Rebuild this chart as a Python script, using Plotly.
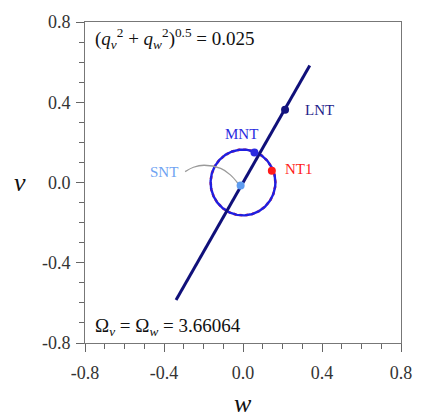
import numpy as np
import plotly.graph_objects as go

# Data
line_w = [-0.339, 0.338]
line_v = [-0.586, 0.583]
circle_r = 0.164
circle_theta = np.linspace(0, 2 * np.pi, 241)
pts_names = ["LNT", "MNT", "NT1", "SNT"]
pts_w = [0.213, 0.058, 0.146, -0.012]
pts_v = [0.362, 0.150, 0.058, -0.015]
pts_colors = ["#14147f", "#2a2ae0", "#ff1a1a", "#5e9cf0"]
lab_w = [0.385, -0.010, 0.285, -0.400]
lab_v = [0.360, 0.242, 0.067, 0.054]
lab_colors = ["#1e1e8a", "#2a2ae0", "#ff1a1a", "#6fa3f2"]
conn_w = [-0.293, -0.251, -0.197, -0.113, -0.064, -0.025]
conn_v = [0.054, 0.076, 0.086, 0.070, 0.038, -0.005]
tick_vals = [-0.8, -0.4, 0.0, 0.4, 0.8]
tick_text = ["-0.8", "-0.4", "0.0", "0.4", "0.8"]

SERIF = "Liberation Serif, Times New Roman, serif"

cw = circle_r * np.cos(circle_theta)
cv = circle_r * np.sin(circle_theta)

fig = go.Figure()
fig.add_trace(go.Scatter(x=cw, y=cv, mode="lines",
                         line=dict(color="#ff3030", width=2.6, dash="dot"),
                         hoverinfo="skip", showlegend=False))
fig.add_trace(go.Scatter(x=cw, y=cv, mode="lines",
                         line=dict(color="#1f1fe0", width=2.4),
                         hoverinfo="skip", showlegend=False))
fig.add_trace(go.Scatter(x=conn_w, y=conn_v, mode="lines",
                         line=dict(color="#9a9a9a", width=1.3, shape="spline"),
                         hoverinfo="skip", showlegend=False))
fig.add_trace(go.Scatter(x=line_w, y=line_v, mode="lines",
                         line=dict(color="#10107a", width=3),
                         showlegend=False))
fig.add_trace(go.Scatter(x=pts_w, y=pts_v, mode="markers",
                         marker=dict(color=pts_colors, size=8),
                         text=pts_names, showlegend=False))

for n, x, y, c in zip(pts_names, lab_w, lab_v, lab_colors):
    fig.add_annotation(x=x, y=y, text=n, showarrow=False,
                       font=dict(family=SERIF, size=15, color=c))

fig.add_annotation(xref="paper", yref="paper", x=0.025, y=0.95,
                   xanchor="left", yanchor="middle", showarrow=False,
                   text="(<i>q<sub>v</sub></i><sup>2</sup> + <i>q<sub>w</sub></i><sup>2</sup>)<sup>0.5</sup> = 0.025",
                   font=dict(family=SERIF, size=19, color="#111"))
fig.add_annotation(xref="paper", yref="paper", x=0.025, y=0.05,
                   xanchor="left", yanchor="middle", showarrow=False,
                   text="Ω<sub><i>v</i></sub> = Ω<sub><i>w</i></sub> = 3.66064",
                   font=dict(family=SERIF, size=19, color="#111"))
# axis titles
fig.add_annotation(xref="paper", yref="paper", x=-0.205, y=0.5,
                   xanchor="center", yanchor="middle", showarrow=False,
                   text="<i>v</i>",
                   font=dict(family=SERIF, size=26, color="#111"))
fig.add_annotation(xref="paper", yref="paper", x=0.5, y=-0.19,
                   xanchor="center", yanchor="middle", showarrow=False,
                   text="<i>w</i>",
                   font=dict(family=SERIF, size=26, color="#111"))

axis_common = dict(range=[-0.8, 0.8], tickvals=tick_vals, ticktext=tick_text,
                   ticks="outside", ticklen=8, tickcolor="#666", tickwidth=1,
                   showline=True, linecolor="#777", linewidth=1, mirror=True,
                   showgrid=False, zeroline=False,
                   minor=dict(ticks="outside", ticklen=5, dtick=0.1,
                              tickcolor="#666", showgrid=False),
                   tickfont=dict(family=SERIF, size=18, color="#333"))

fig.update_layout(width=424, height=418,
                  margin=dict(l=85, r=14, t=18, b=75),
                  plot_bgcolor="white", paper_bgcolor="white",
                  xaxis=axis_common, yaxis=axis_common)
fig.update_xaxes(tick0=-0.8, ticklabelstandoff=5)
fig.update_yaxes(tick0=-0.8, ticklabelstandoff=2)

fig.write_html("out.html", config={"displayModeBar": False},
               post_script="document.body.style.margin='0';")
